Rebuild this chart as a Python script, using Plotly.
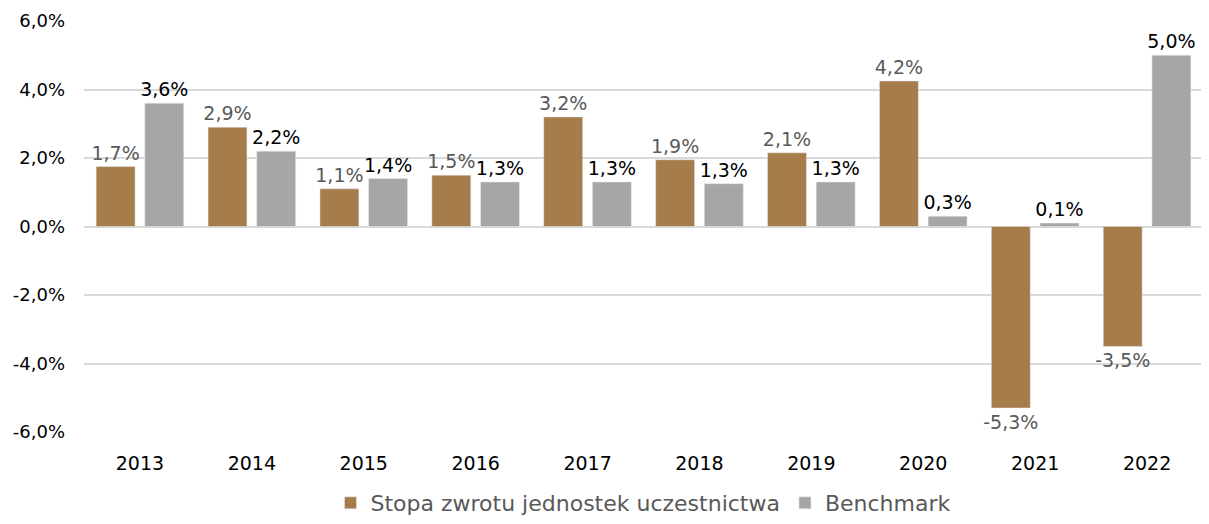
import plotly.graph_objects as go

years = ["2013", "2014", "2015", "2016", "2017", "2018", "2019", "2020", "2021", "2022"]
stopa = [1.75, 2.9, 1.1, 1.5, 3.2, 1.95, 2.15, 4.25, -5.3, -3.5]
stopa_labels = ["1,7%", "2,9%", "1,1%", "1,5%", "3,2%", "1,9%", "2,1%", "4,2%", "-5,3%", "-3,5%"]
bench = [3.6, 2.2, 1.4, 1.3, 1.3, 1.25, 1.3, 0.3, 0.1, 5.0]
bench_labels = ["3,6%", "2,2%", "1,4%", "1,3%", "1,3%", "1,3%", "1,3%", "0,3%", "0,1%", "5,0%"]
y_ticks = [-6, -4, -2, 0, 2, 4, 6]
y_ticklabels = ["-6,0%", "-4,0%", "-2,0%", "0,0%", "2,0%", "4,0%", "6,0%"]

FONT = "DejaVu Sans"

fig = go.Figure()
fig.add_trace(go.Bar(
    x=years, y=stopa, name="Stopa zwrotu jednostek uczestnictwa",
    marker=dict(color="#A67C4B"),
    text=stopa_labels, textposition="outside", constraintext="none",
    textfont=dict(family=FONT, size=19, color="#595959"),
    cliponaxis=False,
))
fig.add_trace(go.Bar(
    x=years, y=bench, name="Benchmark",
    marker=dict(color="#A6A6A6"),
    text=bench_labels, textposition="outside", constraintext="none",
    textfont=dict(family=FONT, size=19, color="#000000"),
    cliponaxis=False,
))

fig.update_layout(
    width=1201, height=516,
    margin=dict(l=76, r=6, t=13, b=92, autoexpand=False),
    paper_bgcolor="white", plot_bgcolor="white",
    barmode="group", bargap=0.13, bargroupgap=0.2,
    font=dict(family=FONT, size=18, color="#000000"),
    showlegend=True,
    legend=dict(orientation="h", x=0.5, xanchor="center", y=-0.224, yanchor="bottom",
                font=dict(family=FONT, size=22, color="#595959"),
                traceorder="normal"),
)
fig.update_yaxes(
    range=[-6, 6], tickvals=y_ticks, ticktext=y_ticklabels,
    showgrid=True, gridcolor="#D9D9D9", gridwidth=2,
    zeroline=True, zerolinecolor="#D9D9D9", zerolinewidth=2,
    tickfont=dict(family=FONT, size=18, color="#000000"),
    ticks="", ticklabelstandoff=18,
)
fig.update_xaxes(
    tickfont=dict(family=FONT, size=19, color="#000000"),
    showline=False, ticks="", ticklabelstandoff=18,
)

fig.write_html("out.html")
